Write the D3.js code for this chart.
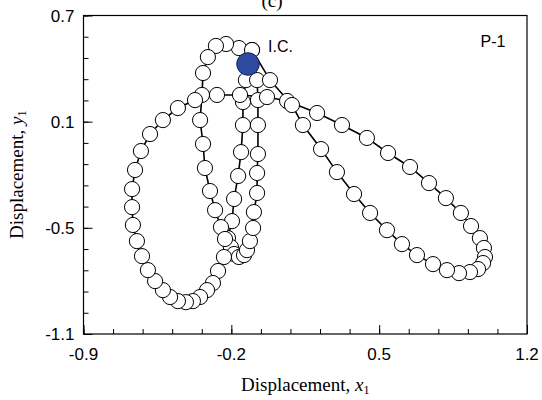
<!DOCTYPE html>
<html><head><meta charset="utf-8">
<script src="https://cdn.jsdelivr.net/npm/d3@7"></script>
<style>body{margin:0;background:#fff}svg{display:block}</style>
</head><body><svg id="c" width="542" height="400"></svg>
<script>
// Trajectory (x1, y1); first point is the initial condition (I.C.)
const x1 = [-0.121,-0.131,-0.145,-0.145,-0.154,-0.168,-0.187,-0.197,-0.216,-0.202,
  -0.187,-0.164,-0.140,-0.126,-0.112,-0.097,-0.093,-0.078,-0.078,-0.074,
  -0.074,-0.074,-0.078,-0.102,-0.164,-0.225,-0.273,-0.311,-0.334,-0.339,
  -0.348,-0.334,-0.325,-0.301,-0.277,-0.249,-0.230,-0.235,-0.263,-0.287,
  -0.315,-0.348,-0.382,-0.415,-0.453,-0.490,-0.524,-0.561,-0.595,-0.623,
  -0.647,-0.666,-0.670,-0.670,-0.656,-0.628,-0.585,-0.524,-0.453,-0.372,
  -0.268,-0.159,-0.031,0.064,0.206,0.324,0.442,0.542,0.646,0.736,
  0.816,0.887,0.935,0.977,0.996,1.001,0.992,0.968,0.930,0.878,
  0.821,0.755,0.679,0.608,0.537,0.457,0.381,0.300,0.225,0.139,
  0.087,-0.017,-0.102];
const y1 = [0.426,0.335,0.211,0.081,-0.072,-0.207,-0.337,-0.462,-0.558,-0.609,
  -0.648,-0.665,-0.654,-0.626,-0.575,-0.501,-0.411,-0.303,-0.190,-0.083,
  0.081,0.222,0.335,0.505,0.516,0.539,0.528,0.465,0.375,0.251,
  0.109,-0.026,-0.162,-0.292,-0.400,-0.496,-0.563,-0.665,-0.744,-0.812,
  -0.852,-0.891,-0.914,-0.920,-0.914,-0.891,-0.852,-0.801,-0.739,-0.660,
  -0.575,-0.484,-0.383,-0.281,-0.173,-0.066,0.030,0.109,0.177,0.222,
  0.251,0.251,0.239,0.217,0.149,0.081,0.008,-0.077,-0.156,-0.247,
  -0.332,-0.416,-0.490,-0.558,-0.614,-0.665,-0.699,-0.733,-0.750,-0.756,
  -0.739,-0.705,-0.654,-0.592,-0.513,-0.416,-0.309,-0.185,-0.055,0.081,
  0.194,0.335,0.505];
const xDomain = [-0.9, 1.2];
const yDomain = [-1.1, 0.7];
const xMajorTicks = [-0.9, -0.2, 0.5, 1.2];
const yMajorTicks = [-1.1, -0.5, 0.1, 0.7];
const xTickLabels = ["-0.9", "-0.2", "0.5", "1.2"];
const yTickLabels = ["-1.1", "-0.5", "0.1", "0.7"];
const xMinorStep = 0.14, yMinorStep = 0.12;
const title = "(c)", icLabel = "I.C.", caseLabel = "P-1";

const svg = d3.select("#c");
const L = 83.5, R = 527, T = 15.5, B = 334;
const x = d3.scaleLinear().domain(xDomain).range([L, R]);
const y = d3.scaleLinear().domain(yDomain).range([B, T]);

const xMinor = d3.range(0, 16).map(i => +(xDomain[0] + xMinorStep * i).toFixed(3));
const yMinor = d3.range(0, 16).map(i => +(yDomain[0] + yMinorStep * i).toFixed(3));

// minor ticks
svg.append("g").attr("transform", `translate(0,${B})`)
  .call(d3.axisBottom(x).tickValues(xMinor).tickSize(-5).tickFormat(""))
  .call(g => g.select(".domain").remove());
svg.append("g").attr("transform", `translate(${L},0)`)
  .call(d3.axisLeft(y).tickValues(yMinor).tickSize(-5).tickFormat(""))
  .call(g => g.select(".domain").remove());
// major ticks
svg.append("g").attr("transform", `translate(0,${B})`)
  .call(d3.axisBottom(x).tickValues(xMajorTicks).tickSize(-9).tickFormat(""))
  .call(g => g.select(".domain").remove());
svg.append("g").attr("transform", `translate(${L},0)`)
  .call(d3.axisLeft(y).tickValues(yMajorTicks).tickSize(-9).tickFormat(""))
  .call(g => g.select(".domain").remove());
svg.selectAll(".tick line").attr("stroke", "#000");

// tick labels
svg.append("g").selectAll("text").data(xMajorTicks).join("text")
  .attr("x", d => x(d)).attr("y", B + 26)
  .attr("text-anchor", "middle")
  .attr("font-family", "Liberation Sans, Arial, sans-serif").attr("font-size", 17)
  .text((d, i) => xTickLabels[i]);
svg.append("g").selectAll("text").data(yMajorTicks).join("text")
  .attr("x", L - 9).attr("y", d => y(d) + 6)
  .attr("text-anchor", "end")
  .attr("font-family", "Liberation Sans, Arial, sans-serif").attr("font-size", 17)
  .text((d, i) => yTickLabels[i]);

// frame
svg.append("rect").attr("x", L).attr("y", T).attr("width", R - L).attr("height", B - T)
  .attr("fill", "none").attr("stroke", "#000").attr("stroke-width", 1.2);

// axis titles
const xt = svg.append("text").attr("x", (L + R) / 2).attr("y", 391)
  .attr("text-anchor", "middle").attr("font-family", "Liberation Serif, Times New Roman, serif")
  .attr("font-size", 19);
xt.append("tspan").text("Displacement, ");
xt.append("tspan").attr("font-style", "italic").text("x");
xt.append("tspan").attr("font-size", 12).attr("dy", 3).text("1");

const yt = svg.append("text").attr("transform", `translate(23,${(T + B) / 2}) rotate(-90)`)
  .attr("text-anchor", "middle").attr("font-family", "Liberation Serif, Times New Roman, serif")
  .attr("font-size", 19);
yt.append("tspan").text("Displacement, ");
yt.append("tspan").attr("font-style", "italic").text("y");
yt.append("tspan").attr("font-size", 12).attr("dy", 3).text("1");

svg.append("text").attr("x", 272).attr("y", 7).attr("text-anchor", "middle")
  .attr("font-family", "Liberation Serif, Times New Roman, serif").attr("font-size", 19).text(title);

// trajectory
const pts = x1.map((v, i) => [v, y1[i]]);
svg.append("path").datum(pts)
  .attr("d", d3.line().x(d => x(d[0])).y(d => y(d[1])))
  .attr("fill", "none").attr("stroke", "#000").attr("stroke-width", 1.6);
svg.append("g").selectAll("circle").data(pts).join("circle")
  .attr("cx", d => x(d[0])).attr("cy", d => y(d[1])).attr("r", 7.6)
  .attr("fill", "#fff").attr("stroke", "#000").attr("stroke-width", 1);
// initial condition
svg.append("circle").attr("cx", x(pts[0][0])).attr("cy", y(pts[0][1])).attr("r", 11.3)
  .attr("fill", "#2e4aa0").attr("stroke", "#1a2550").attr("stroke-width", 1);

svg.append("text").attr("x", 268).attr("y", 51.5)
  .attr("font-family", "Liberation Sans, Arial, sans-serif").attr("font-size", 16).text(icLabel);
svg.append("text").attr("x", 480.5).attr("y", 46.5)
  .attr("font-family", "Liberation Sans, Arial, sans-serif").attr("font-size", 16).text(caseLabel);
</script></body></html>
